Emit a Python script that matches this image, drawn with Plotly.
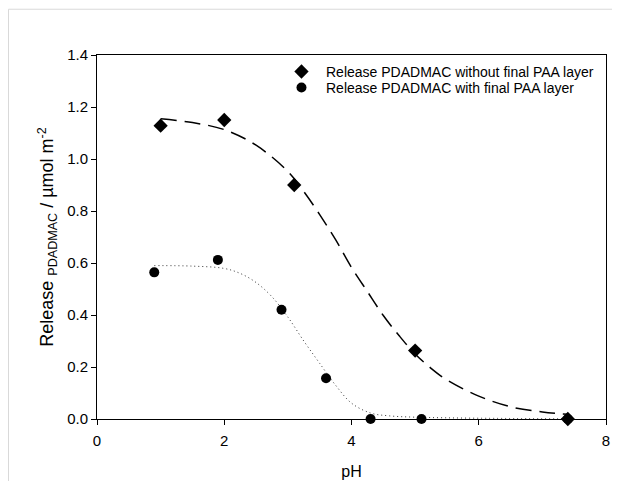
import plotly.graph_objects as go

# Measured data
ph_without = [1.0, 2.0, 3.1, 5.0, 7.4]
rel_without = [1.128, 1.150, 0.900, 0.263, 0.0]
ph_with = [0.9, 1.9, 2.9, 3.6, 4.3, 5.1, 7.4]
rel_with = [0.564, 0.612, 0.420, 0.157, 0.0, 0.0, 0.0]

# Fit curves
fit_without_x = [1.0, 1.5, 2.0, 2.5, 3.0, 3.25, 3.5, 3.75, 4.0, 4.25, 4.5, 4.75, 5.0, 5.25, 5.5, 6.0, 6.5, 7.0, 7.4]
fit_without_y = [1.155, 1.14, 1.113, 1.053, 0.952, 0.875, 0.786, 0.69, 0.583, 0.49, 0.398, 0.32, 0.25, 0.195, 0.15, 0.088, 0.047, 0.027, 0.018]
fit_with_x = [0.9, 1.5, 2.0, 2.25, 2.5, 2.75, 3.0, 3.25, 3.5, 3.75, 4.0, 4.3, 4.6, 5.0, 6.0, 7.4]
fit_with_y = [0.59, 0.588, 0.579, 0.56, 0.525, 0.47, 0.392, 0.30, 0.214, 0.13, 0.061, 0.023, 0.012, 0.007, 0.003, 0.001]

x_ticks = [0, 2, 4, 6, 8]
y_ticks = [0.0, 0.2, 0.4, 0.6, 0.8, 1.0, 1.2, 1.4]

fig = go.Figure()
fig.add_trace(go.Scatter(x=fit_without_x, y=fit_without_y, mode="lines", line_shape="spline",
                         line=dict(color="black", width=1.5, dash="16px,8px"), showlegend=False, hoverinfo="skip"))
fig.add_trace(go.Scatter(x=fit_with_x, y=fit_with_y, mode="lines", line_shape="spline",
                         line=dict(color="#333333", width=1, dash="1px,3px"), showlegend=False, hoverinfo="skip"))
fig.add_trace(go.Scatter(x=ph_without, y=rel_without, mode="markers",
                         marker=dict(symbol="diamond", size=11, color="black"),
                         name="Release PDADMAC without final PAA layer", cliponaxis=False, legend="legend"))
fig.add_trace(go.Scatter(x=ph_with, y=rel_with, mode="markers",
                         marker=dict(symbol="circle", size=10, color="black"),
                         name="Release PDADMAC with final PAA layer", cliponaxis=False, legend="legend2"))

leg_common = dict(xanchor="left", yanchor="middle", bgcolor="rgba(0,0,0,0)",
                  font=dict(size=14), itemwidth=39, borderwidth=0)

fig.update_layout(
    width=620, height=481,
    margin=dict(l=89, r=22, t=47, b=68),
    paper_bgcolor="white", plot_bgcolor="white",
    font=dict(family="Liberation Sans, Arial, sans-serif", color="black", size=15),
    legend=dict(x=0.3536, y=0.9536, **leg_common),
    legend2=dict(x=0.3536, y=0.9098, **leg_common),
    shapes=[dict(type="rect", xref="paper", yref="paper", x0=-0.1739, y0=-0.6, x1=1.5, y1=1.1257,
                 line=dict(color="#d9d9d9", width=1), fillcolor="rgba(0,0,0,0)", layer="below")],
)
fig.update_xaxes(range=[0, 8], tickvals=x_ticks, ticktext=[str(v) for v in x_ticks],
                 showgrid=False, zeroline=False, showline=True, linecolor="black", linewidth=1,
                 mirror=True, ticks="outside", ticklen=5, tickcolor="black", ticklabelstandoff=3,
                 title=dict(text="pH", font=dict(size=16), standoff=17))
fig.update_yaxes(range=[0, 1.4], tickvals=y_ticks, ticktext=[f"{v:.1f}" for v in y_ticks],
                 showgrid=False, zeroline=False, showline=True, linecolor="black", linewidth=1,
                 mirror=True, ticks="outside", ticklen=5, tickcolor="black",
                 title=dict(text="Release <sub>PDADMAC</sub> / µmol m<sup>-2</sup>", font=dict(size=18), standoff=8))

fig.write_html("out.html")
